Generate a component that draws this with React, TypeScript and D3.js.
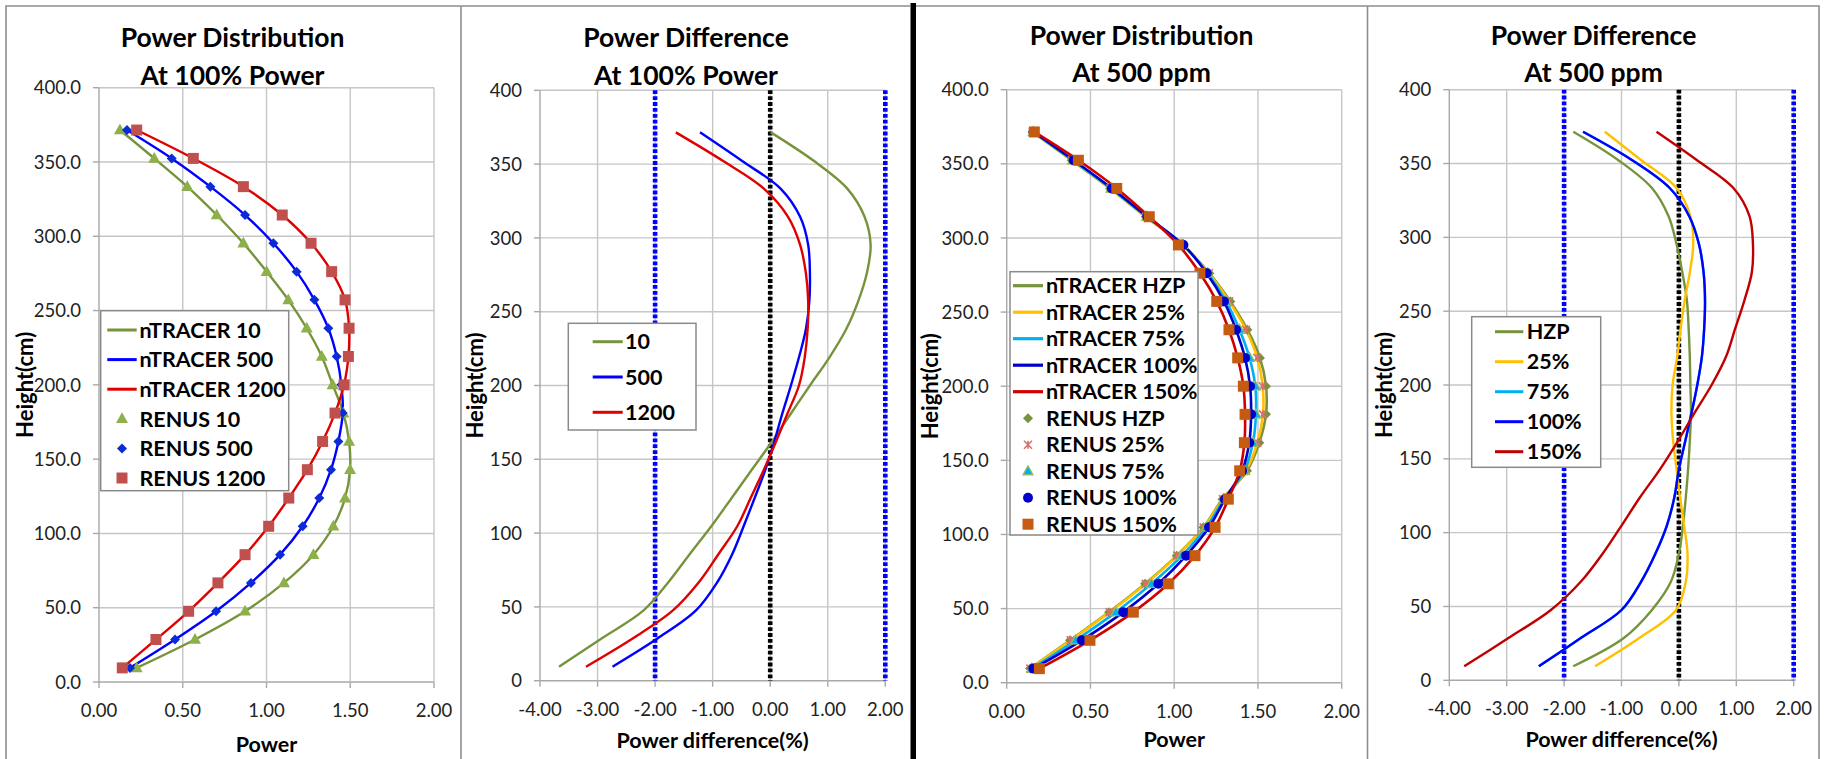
import React, { useEffect } from "react";
import * as d3 from "d3";

// ---------- DATA ----------
const HEIGHTS = [9.5, 28.6, 47.6, 66.7, 85.7, 104.8, 123.8, 142.9, 161.9, 181.0, 200.0, 219.1, 238.1, 257.2, 276.2, 295.3, 314.3, 333.4, 352.4, 371.5];

// Panel 1: power distribution at 100% power (burnup 10 / 500 / 1200)
const POW_10 = [0.225, 0.573, 0.872, 1.104, 1.280, 1.399, 1.469, 1.499, 1.493, 1.459, 1.395, 1.330, 1.240, 1.130, 1.001, 0.862, 0.703, 0.527, 0.330, 0.125];
const POW_500 = [0.185, 0.454, 0.699, 0.907, 1.081, 1.216, 1.315, 1.385, 1.429, 1.455, 1.447, 1.419, 1.369, 1.286, 1.180, 1.041, 0.872, 0.665, 0.434, 0.167];
const POW_1200 = [0.139, 0.340, 0.535, 0.710, 0.872, 1.013, 1.133, 1.244, 1.335, 1.409, 1.463, 1.489, 1.493, 1.469, 1.389, 1.266, 1.094, 0.862, 0.563, 0.225];

// Panel 2: power difference (%) at 100% power
const DIF_10 = [-3.67, -2.93, -2.20, -1.77, -1.40, -1.02, -0.67, -0.32, 0.03, 0.36, 0.69, 1.03, 1.32, 1.53, 1.68, 1.745, 1.64, 1.34, 0.75, 0.01];
const DIF_500 = [-2.74, -1.96, -1.29, -0.92, -0.66, -0.46, -0.27, -0.085, 0.07, 0.21, 0.36, 0.50, 0.62, 0.68, 0.69, 0.66, 0.52, 0.18, -0.50, -1.22];
const DIF_1200 = [-3.20, -2.39, -1.69, -1.24, -0.90, -0.57, -0.34, -0.11, 0.10, 0.30, 0.50, 0.60, 0.65, 0.66, 0.62, 0.52, 0.31, -0.11, -0.83, -1.64];

// Panel 3: power distribution at 500 ppm (HZP / 25% / 75% / 100% / 150%)
const PPM_HZP = [0.139, 0.378, 0.611, 0.826, 1.015, 1.174, 1.288, 1.435, 1.508, 1.548, 1.548, 1.512, 1.437, 1.335, 1.210, 1.050, 0.830, 0.617, 0.388, 0.155];
const PPM_25 = [0.141, 0.382, 0.615, 0.830, 1.018, 1.176, 1.291, 1.428, 1.497, 1.530, 1.528, 1.496, 1.428, 1.328, 1.207, 1.050, 0.832, 0.619, 0.389, 0.156];
const PPM_75 = [0.150, 0.412, 0.652, 0.864, 1.046, 1.192, 1.297, 1.418, 1.470, 1.488, 1.484, 1.450, 1.390, 1.310, 1.200, 1.052, 0.836, 0.623, 0.394, 0.158];
const PPM_100 = [0.159, 0.448, 0.696, 0.905, 1.071, 1.208, 1.303, 1.405, 1.448, 1.459, 1.453, 1.423, 1.369, 1.297, 1.194, 1.055, 0.840, 0.628, 0.400, 0.160];
const PPM_150 = [0.195, 0.497, 0.756, 0.965, 1.124, 1.244, 1.323, 1.391, 1.419, 1.423, 1.413, 1.379, 1.327, 1.254, 1.154, 1.025, 0.851, 0.657, 0.428, 0.165];

// Panel 4: power difference (%) at 500 ppm
const DPPM_HZP = [-1.84, -0.96, -0.47, -0.14, 0.00, 0.07, 0.12, 0.16, 0.19, 0.21, 0.20, 0.19, 0.17, 0.14, 0.06, -0.04, -0.18, -0.47, -1.06, -1.84];
const DPPM_25 = [-1.46, -0.69, -0.05, 0.12, 0.15, 0.09, 0.02, -0.04, -0.10, -0.13, -0.11, -0.03, 0.03, 0.10, 0.19, 0.25, 0.20, -0.04, -0.66, -1.29];
const DPPM_75 = [-2.44, -1.71, -1.00, -0.66, -0.41, -0.21, -0.08, 0.00, 0.11, 0.22, 0.32, 0.40, 0.44, 0.455, 0.43, 0.35, 0.18, -0.16, -0.82, -1.67];
const DPPM_100 = [-2.44, -1.71, -1.00, -0.66, -0.41, -0.21, -0.08, 0.00, 0.11, 0.22, 0.32, 0.40, 0.44, 0.455, 0.43, 0.35, 0.18, -0.16, -0.82, -1.67];
const DPPM_150 = [-3.74, -2.97, -2.23, -1.71, -1.33, -1.00, -0.68, -0.33, -0.02, 0.27, 0.57, 0.82, 0.98, 1.14, 1.27, 1.29, 1.23, 0.95, 0.31, -0.39];

const POWER_TICKS = [0, 0.5, 1.0, 1.5, 2.0];
const DIFF_TICKS = [-4, -3, -2, -1, 0, 1, 2];
const HEIGHT_TICKS = [0, 50, 100, 150, 200, 250, 300, 350, 400];
const DIFF_LIMITS = [-2, 2];
const DIFF_ZERO = [0];

// ---------- STYLE ----------
const FONT = "Lato, 'Open Sans', 'DejaVu Sans', sans-serif";
const GRID = "#C6C6C6";
const AXIS = "#A8A8A8";

type Shape = "square" | "diamond" | "triangle" | "circle" | "star";
interface LineS { name: string; values: number[]; color: string; width: number; }
interface MarkS { name: string; values: number[]; fill: string; stroke?: string; shape: Shape; size: number; }
interface LegendItem { label: string; line?: { color: string; width: number }; mark?: MarkS; }
interface PanelCfg {
  plot: { x0: number; x1: number; top: number; bottom: number };
  chartCx: number;
  xDomain: [number, number];
  xTicks: number[];
  xFmt: (v: number) => string;
  yFmt: (v: number) => string;
  title: string[];
  titleY: number[];
  xTitle: string;
  xTitleY: number;
  yTitleX: number;
  lines: LineS[];
  marks: MarkS[];
  vlines: { x: number; color: string }[];
  legend: { x0: number; y0: number; x1: number; y1: number; rowY0: number; step: number; symX0: number; symX1: number; textX: number; items: LegendItem[] };
}

function markerPath(shape: Shape, size: number): string {
  if (shape === "square") return d3.symbol(d3.symbolSquare, size * size)() as string;
  if (shape === "circle") return d3.symbol(d3.symbolCircle, Math.PI * (size / 2) * (size / 2))() as string;
  if (shape === "triangle") {
    const h = size * 0.9;
    return `M0,${-h * 0.6}L${size / 2},${h * 0.4}L${-size / 2},${h * 0.4}Z`;
  }
  if (shape === "diamond") {
    const r = size / 2;
    return `M0,${-r}L${r},0L0,${r}L${-r},0Z`;
  }
  const r = size / 2;
  return `M${-r},${-r}L${r},${r}M${-r},${r}L${r},${-r}M0,${-r}L0,${r}`;
}

function Marker({ m, x, y }: { m: MarkS; x: number; y: number }) {
  const d = markerPath(m.shape, m.size);
  if (m.shape === "star") {
    return <path d={d} transform={`translate(${x},${y})`} stroke={m.fill} strokeWidth={1.6} fill="none" />;
  }
  return <path d={d} transform={`translate(${x},${y})`} fill={m.fill} stroke={m.stroke || "none"} strokeWidth={m.stroke ? 1.2 : 0} />;
}

function Panel({ cfg }: { cfg: PanelCfg }) {
  const { plot } = cfg;
  const x = d3.scaleLinear().domain(cfg.xDomain).range([plot.x0, plot.x1]);
  const y = d3.scaleLinear().domain([0, 400]).range([plot.bottom, plot.top]);
  const line = d3.line<number>()
    .x((v) => x(v))
    .y((_, i) => y(HEIGHTS[i]))
    .curve(d3.curveCatmullRom.alpha(0.5));
  const lg = cfg.legend;
  return (
    <g>
      {/* grid */}
      {HEIGHT_TICKS.map((t) => (
        <line key={"hy" + t} x1={plot.x0} x2={plot.x1} y1={y(t)} y2={y(t)} stroke={t === 0 ? AXIS : GRID} strokeWidth={1.4} />
      ))}
      {cfg.xTicks.map((t, i) => (
        <line key={"vx" + t} x1={x(t)} x2={x(t)} y1={plot.top} y2={plot.bottom} stroke={i === 0 ? AXIS : GRID} strokeWidth={1.4} />
      ))}
      {/* tick marks */}
      {HEIGHT_TICKS.map((t) => (
        <line key={"ty" + t} x1={plot.x0 - 6} x2={plot.x0} y1={y(t)} y2={y(t)} stroke={AXIS} strokeWidth={1.4} />
      ))}
      {cfg.xTicks.map((t) => (
        <line key={"tx" + t} x1={x(t)} x2={x(t)} y1={plot.bottom} y2={plot.bottom + 6} stroke={AXIS} strokeWidth={1.4} />
      ))}
      {/* tick labels */}
      {HEIGHT_TICKS.map((t) => (
        <text key={"ly" + t} x={plot.x0 - 18} y={y(t)} dy="0.36em" textAnchor="end" fontSize={18.5} fontFamily={FONT} fill="#222">
          {cfg.yFmt(t)}
        </text>
      ))}
      {cfg.xTicks.map((t) => (
        <text key={"lx" + t} x={x(t)} y={plot.bottom + 35} textAnchor="middle" fontSize={18.5} fontFamily={FONT} fill="#222">
          {cfg.xFmt(t)}
        </text>
      ))}
      {/* reference lines */}
      {cfg.vlines.map((v, i) => (
        <line key={"vl" + i} x1={x(v.x)} x2={x(v.x)} y1={plot.top} y2={plot.bottom} stroke={v.color} strokeWidth={4.6} strokeDasharray="3.8 2.1" />
      ))}
      {/* lines */}
      {cfg.lines.map((s) => (
        <path key={s.name} d={line(s.values) as string} fill="none" stroke={s.color} strokeWidth={s.width} />
      ))}
      {/* markers */}
      {cfg.marks.map((m) => (
        <g key={m.name}>
          {m.values.map((v, i) => (
            <Marker key={i} m={m} x={x(v)} y={y(HEIGHTS[i])} />
          ))}
        </g>
      ))}
      {/* titles */}
      {cfg.title.map((t, i) => (
        <text key={"t" + i} x={cfg.chartCx} y={cfg.titleY[i]} textAnchor="middle" fontSize={26.5} fontWeight="bold" fontFamily={FONT} fill="#000">
          {t}
        </text>
      ))}
      <text x={(plot.x0 + plot.x1) / 2} y={cfg.xTitleY} textAnchor="middle" fontSize={21.5} fontWeight="bold" fontFamily={FONT} fill="#000">
        {cfg.xTitle}
      </text>
      <text transform={`translate(${cfg.yTitleX},${(plot.top + plot.bottom) / 2}) rotate(-90)`} textAnchor="middle" fontSize={22} fontWeight="bold" fontFamily={FONT} fill="#000">
        Height(cm)
      </text>
      {/* legend */}
      <rect x={lg.x0} y={lg.y0} width={lg.x1 - lg.x0} height={lg.y1 - lg.y0} fill="#fff" stroke="#8A8A8A" strokeWidth={1.5} />
      {lg.items.map((it, i) => {
        const cy = lg.rowY0 + i * lg.step;
        return (
          <g key={"lg" + i}>
            {it.line && <line x1={lg.symX0} x2={lg.symX1} y1={cy} y2={cy} stroke={it.line.color} strokeWidth={it.line.width + 0.6} />}
            {it.mark && <Marker m={it.mark} x={(lg.symX0 + lg.symX1) / 2} y={cy} />}
            <text x={lg.textX} y={cy} dy="0.36em" fontSize={21.5} fontWeight="bold" fontFamily={FONT} fill="#000">
              {it.label}
            </text>
          </g>
        );
      })}
    </g>
  );
}

const f1 = (v: number) => v.toFixed(1);
const f0 = (v: number) => v.toFixed(0);
const f2 = (v: number) => v.toFixed(2);

// series definitions
const L10 = { name: "nTRACER 10", values: POW_10, color: "#77933C", width: 2.4 };
const L500 = { name: "nTRACER 500", values: POW_500, color: "#0000FF", width: 2.4 };
const L1200 = { name: "nTRACER 1200", values: POW_1200, color: "#E00000", width: 2.4 };
const M10: MarkS = { name: "RENUS 10", values: POW_10, fill: "#8DB04A", shape: "triangle", size: 12 };
const M500: MarkS = { name: "RENUS 500", values: POW_500, fill: "#0A2BD6", shape: "diamond", size: 10 };
const M1200: MarkS = { name: "RENUS 1200", values: POW_1200, fill: "#C0504D", shape: "square", size: 11 };

const PL_HZP = { name: "nTRACER HZP", values: PPM_HZP, color: "#77933C", width: 2.6 };
const PL_25 = { name: "nTRACER 25%", values: PPM_25, color: "#FFC000", width: 2.6 };
const PL_75 = { name: "nTRACER 75%", values: PPM_75, color: "#00B0F0", width: 2.6 };
const PL_100 = { name: "nTRACER 100%", values: PPM_100, color: "#0000CC", width: 2.6 };
const PL_150 = { name: "nTRACER 150%", values: PPM_150, color: "#D00000", width: 2.6 };
const PM_HZP: MarkS = { name: "RENUS HZP", values: PPM_HZP, fill: "#77933C", shape: "diamond", size: 10 };
const PM_25: MarkS = { name: "RENUS 25%", values: PPM_25, fill: "#D9706C", shape: "star", size: 8 };
const PM_75: MarkS = { name: "RENUS 75%", values: PPM_75, fill: "#00B0F0", stroke: "#9BBB59", shape: "triangle", size: 10 };
const PM_100: MarkS = { name: "RENUS 100%", values: PPM_100, fill: "#0000CC", shape: "circle", size: 10 };
const PM_150: MarkS = { name: "RENUS 150%", values: PPM_150, fill: "#C55A11", shape: "square", size: 11 };

const PANELS: PanelCfg[] = [
  {
    plot: { x0: 99, x1: 434, top: 87.7, bottom: 682 },
    chartCx: 232.5,
    xDomain: [0, 2], xTicks: POWER_TICKS, xFmt: f2, yFmt: f1,
    title: ["Power Distribution", "At 100% Power"], titleY: [47, 85],
    xTitle: "Power", xTitleY: 752, yTitleX: 33,
    lines: [L10, L500, L1200],
    marks: [M10, M500, M1200],
    vlines: [],
    legend: {
      x0: 100.7, y0: 310.7, x1: 288.7, y1: 490.7, rowY0: 330, step: 29.6, symX0: 107.3, symX1: 136.7, textX: 139.5,
      items: [
        { label: "nTRACER 10", line: L10 }, { label: "nTRACER 500", line: L500 }, { label: "nTRACER 1200", line: L1200 },
        { label: "RENUS 10", mark: M10 }, { label: "RENUS 500", mark: M500 }, { label: "RENUS 1200", mark: M1200 },
      ],
    },
  },
  {
    plot: { x0: 540, x1: 885.3, top: 90.3, bottom: 680.7 },
    chartCx: 686,
    xDomain: [-4, 2], xTicks: DIFF_TICKS, xFmt: f2, yFmt: f0,
    title: ["Power Difference", "At 100% Power"], titleY: [47, 85],
    xTitle: "Power difference(%)", xTitleY: 748, yTitleX: 483,
    lines: [
      { name: "10", values: DIF_10, color: "#77933C", width: 2.4 },
      { name: "500", values: DIF_500, color: "#0000FF", width: 2.4 },
      { name: "1200", values: DIF_1200, color: "#E00000", width: 2.4 },
    ],
    marks: [],
    vlines: [
      ...DIFF_LIMITS.map((v) => ({ x: v, color: "#0000FF" })),
      ...DIFF_ZERO.map((v) => ({ x: v, color: "#000000" })),
    ],
    legend: {
      x0: 568.3, y0: 323.3, x1: 696, y1: 430, rowY0: 341.7, step: 35.3, symX0: 592.7, symX1: 622.7, textX: 625,
      items: [
        { label: "10", line: { color: "#77933C", width: 2.4 } },
        { label: "500", line: { color: "#0000FF", width: 2.4 } },
        { label: "1200", line: { color: "#E00000", width: 2.4 } },
      ],
    },
  },
  {
    plot: { x0: 1006.7, x1: 1341.7, top: 89.7, bottom: 682.7 },
    chartCx: 1141.5,
    xDomain: [0, 2], xTicks: POWER_TICKS, xFmt: f2, yFmt: f1,
    title: ["Power Distribution", "At 500 ppm"], titleY: [45, 82],
    xTitle: "Power", xTitleY: 746.5, yTitleX: 938,
    lines: [PL_HZP, PL_25, PL_75, PL_100, PL_150],
    marks: [PM_HZP, PM_25, PM_75, PM_100, PM_150],
    vlines: [],
    legend: {
      x0: 1010, y0: 271.7, x1: 1198, y1: 535, rowY0: 285.7, step: 26.5, symX0: 1013, symX1: 1043, textX: 1046,
      items: [
        { label: "nTRACER HZP", line: PL_HZP }, { label: "nTRACER 25%", line: PL_25 }, { label: "nTRACER 75%", line: PL_75 },
        { label: "nTRACER 100%", line: PL_100 }, { label: "nTRACER 150%", line: PL_150 },
        { label: "RENUS HZP", mark: PM_HZP }, { label: "RENUS 25%", mark: PM_25 }, { label: "RENUS 75%", mark: PM_75 },
        { label: "RENUS 100%", mark: PM_100 }, { label: "RENUS 150%", mark: PM_150 },
      ],
    },
  },
  {
    plot: { x0: 1449.3, x1: 1793.7, top: 89.7, bottom: 680.3 },
    chartCx: 1593.5,
    xDomain: [-4, 2], xTicks: DIFF_TICKS, xFmt: f2, yFmt: f0,
    title: ["Power Difference", "At 500 ppm"], titleY: [45, 82],
    xTitle: "Power difference(%)", xTitleY: 746.5, yTitleX: 1392,
    lines: [
      { name: "HZP", values: DPPM_HZP, color: "#77933C", width: 2.4 },
      { name: "25%", values: DPPM_25, color: "#FFC000", width: 2.4 },
      { name: "75%", values: DPPM_75, color: "#00B0F0", width: 2.4 },
      { name: "100%", values: DPPM_100, color: "#0000FF", width: 2.4 },
      { name: "150%", values: DPPM_150, color: "#C00000", width: 2.4 },
    ],
    marks: [],
    vlines: [
      ...DIFF_LIMITS.map((v) => ({ x: v, color: "#0000FF" })),
      ...DIFF_ZERO.map((v) => ({ x: v, color: "#000000" })),
    ],
    legend: {
      x0: 1471.7, y0: 316.7, x1: 1600.7, y1: 467.3, rowY0: 331.7, step: 30, symX0: 1495, symX1: 1523.3, textX: 1526.7,
      items: [
        { label: "HZP", line: { color: "#77933C", width: 2.4 } },
        { label: "25%", line: { color: "#FFC000", width: 2.4 } },
        { label: "75%", line: { color: "#00B0F0", width: 2.4 } },
        { label: "100%", line: { color: "#0000FF", width: 2.4 } },
        { label: "150%", line: { color: "#C00000", width: 2.4 } },
      ],
    },
  },
];

export default function App() {
  useEffect(() => {
    document.body.style.margin = "0";
  }, []);
  return (
    <svg width={1825} height={759} viewBox="0 0 1825 759" style={{ display: "block", position: "absolute", left: 0, top: 0, background: "#fff" }}>
      <rect x={0} y={0} width={1825} height={759} fill="#fff" />
      {/* panel frames */}
      <path d="M6,759 L6,6 L910,6" fill="none" stroke="#8E8E8E" strokeWidth={1.6} />
      <line x1={461} x2={461} y1={6} y2={759} stroke="#8E8E8E" strokeWidth={1.6} />
      <path d="M916,6 L1819,6 L1819,759" fill="none" stroke="#8E8E8E" strokeWidth={1.6} />
      <line x1={1367.5} x2={1367.5} y1={6} y2={759} stroke="#8E8E8E" strokeWidth={1.6} />
      <rect x={910.5} y={3} width={5.5} height={756} fill="#000" />
      {PANELS.map((p, i) => (
        <Panel key={i} cfg={p} />
      ))}
    </svg>
  );
}
